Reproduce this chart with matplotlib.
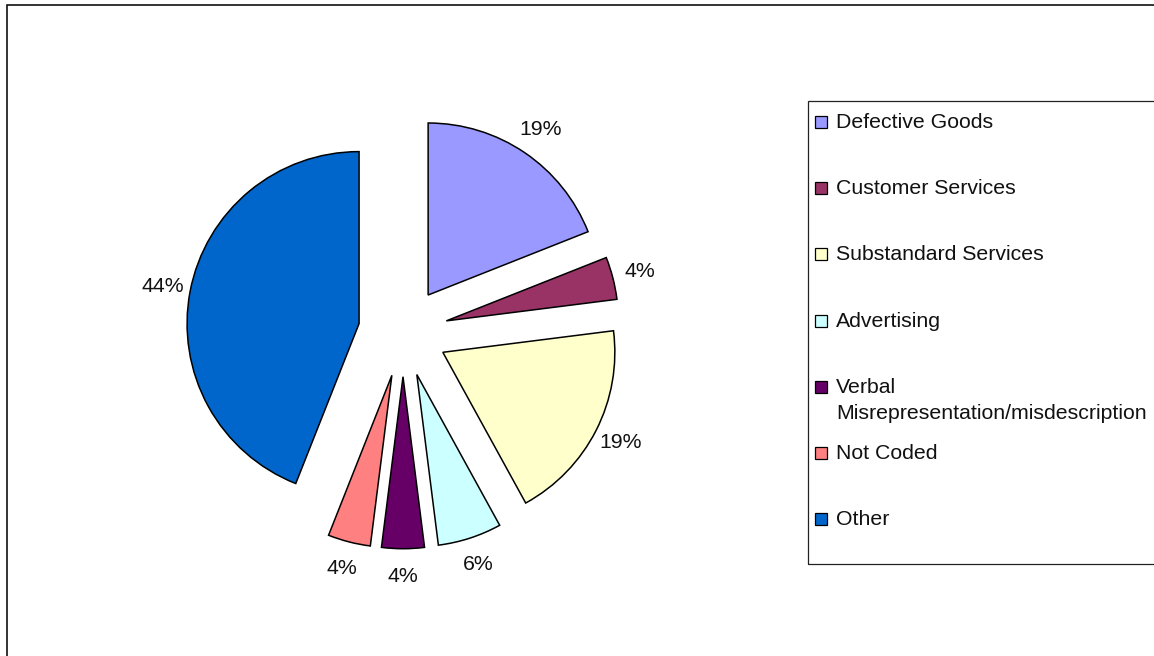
import matplotlib
matplotlib.use("Agg")
import matplotlib.pyplot as plt
from matplotlib.patches import Rectangle

# Complaint categories and their shares (%)
categories = [
    "Defective Goods",
    "Customer Services",
    "Substandard Services",
    "Advertising",
    "Verbal\nMisrepresentation/misdescription",
    "Not Coded",
    "Other",
]
shares = [19, 4, 19, 6, 4, 4, 44]
colors = ["#9999FF", "#993366", "#FFFFCC", "#CCFFFF", "#660066", "#FF8080", "#0066CC"]

plt.rcParams["font.family"] = ["Liberation Sans", "DejaVu Sans"]
FS = 15.3
W, H = 1154, 656
RADIUS = 172

fig = plt.figure(figsize=(W / 100, H / 100), dpi=100)
ax = fig.add_axes([0, 0, 1, 1])

# Exploded pie, clockwise from 12 o'clock (explode is in data units here)
wedges, texts, autotexts = ax.pie(
    shares,
    colors=colors,
    explode=[0.26 * RADIUS] * len(shares),
    startangle=90,
    counterclock=False,
    center=(403, H - 332),
    radius=RADIUS,
    autopct="%.0f%%",
    pctdistance=1.16,
    wedgeprops=dict(edgecolor="black", linewidth=1.1),
    textprops=dict(fontsize=FS, color="#111111"),
    frame=True,
)
ax.set_xlim(0, W)
ax.set_ylim(0, H)
ax.set_aspect("equal")
ax.axis("off")

# Chart-area frame (runs off the right and bottom edges)
ax.add_patch(Rectangle((7, -10), W + 20, H - 5 + 10, fill=False,
                       edgecolor="#111111", lw=1.2, clip_on=False))

# Legend box (extends past the right edge)
ax.add_patch(Rectangle((808, H - 564), 400, 463, fill=False,
                       edgecolor="#222222", lw=0.9, clip_on=False))
row_top = 128
row_step = 66.2
for i, (name, col) in enumerate(zip(categories, colors)):
    base = row_top + i * row_step
    ax.add_patch(Rectangle((815, H - base), 12, 12, facecolor=col,
                           edgecolor="black", lw=0.9))
    for j, line in enumerate(name.split("\n")):
        ax.text(836, H - (base + j * 26), line, fontsize=FS,
                color="#111111", va="baseline", ha="left")

fig.savefig("out.png", dpi=100, facecolor="white")
